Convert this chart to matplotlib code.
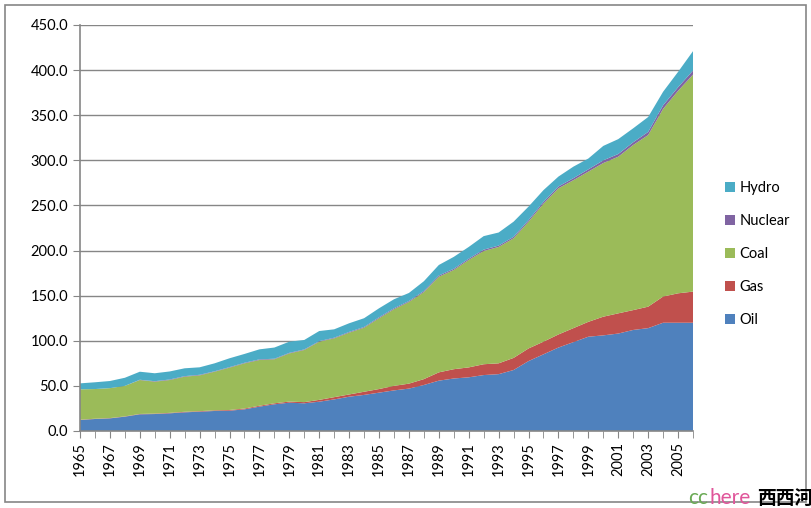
# Stacked area chart of primary energy consumption by fuel, 1965-2006

import numpy as np
import matplotlib.pyplot as plt
from matplotlib.ticker import FormatStrFormatter

years = list(range(1965, 2007))

oil = [12.2, 13.3, 14.0, 15.9, 18.5, 18.8, 19.6, 20.7, 21.4, 22.2,
       22.5, 24.0, 27.0, 29.6, 31.4, 30.7, 32.5, 35.0, 38.0, 40.0,
       42.5, 45.0, 47.0, 51.0, 55.8, 58.2, 59.5, 62.0, 63.0, 67.6,
       77.5, 85.0, 92.5, 98.5, 104.5, 106.0, 108.0, 112.0, 114.0, 120.0,
       120.0, 120.0]
gas = [0.3, 0.3, 0.3, 0.3, 0.4, 0.5, 0.5, 0.6, 0.6, 0.7,
       0.8, 0.9, 1.0, 1.1, 1.2, 1.3, 2.0, 2.5, 2.5, 3.5,
       4.0, 5.0, 5.5, 6.5, 9.2, 10.3, 11.0, 12.0, 12.0, 13.4,
       14.0, 14.0, 14.5, 15.5, 16.5, 20.7, 22.4, 22.0, 23.8, 29.0,
       32.6, 34.5]
coal = [33.7, 32.9, 33.2, 33.8, 37.6, 35.4, 36.4, 38.9, 39.7, 42.8,
        46.9, 50.1, 50.7, 48.8, 53.4, 57.8, 64.5, 65.2, 68.5, 71.0,
        78.5, 85.0, 90.5, 96.5, 106.0, 110.0, 119.1, 125.5, 129.0, 132.6,
        140.5, 153.0, 162.0, 164.0, 166.5, 170.3, 173.6, 183.0, 190.2, 208.0,
        224.4, 240.5]
nuclear = [0.0, 0.0, 0.0, 0.0, 0.3, 0.5, 0.6, 0.6, 0.6, 0.5,
           0.6, 0.6, 0.7, 0.6, 0.6, 0.6, 0.6, 0.7, 0.8, 0.8,
           1.0, 1.0, 1.0, 1.2, 1.3, 1.3, 1.4, 1.5, 1.5, 1.6,
           1.8, 2.0, 2.0, 2.2, 2.5, 3.0, 3.0, 3.0, 3.5, 4.0,
           4.0, 4.5]
hydro = [6.6, 7.5, 7.9, 9.0, 8.9, 8.8, 8.9, 8.7, 8.3, 8.8,
         9.8, 9.8, 11.1, 12.4, 12.4, 10.5, 11.2, 9.3, 9.6, 9.7,
         10.0, 10.0, 9.0, 10.8, 11.7, 13.2, 13.0, 15.0, 14.5, 16.8,
         14.9, 13.0, 11.0, 12.8, 12.0, 16.0, 16.5, 15.5, 16.5, 15.0,
         17.0, 21.5]

names = ["Oil", "Gas", "Coal", "Nuclear", "Hydro"]
colors = ["#4F81BD", "#C0504D", "#9BBB59", "#8064A2", "#4BACC6"]

plt.rcParams['font.family'] = ['Lato', 'DejaVu Sans']
grey = "#868686"

fig = plt.figure(figsize=(8.12, 5.08), dpi=100)
ax = fig.add_axes([80/812, 77/508, 613/812, 406/508])

ax.stackplot(years, oil, gas, coal, nuclear, hydro,
             colors=colors, labels=names, linewidth=0)

ax.set_xlim(1965, 2006)
ax.set_ylim(0, 450)
ax.set_yticks(np.arange(0, 451, 50))
ax.yaxis.set_major_formatter(FormatStrFormatter('%.1f'))
ax.set_xticks(years[::2])
ax.set_xticks(years, minor=True)
ax.set_xticklabels([str(y) for y in years[::2]], rotation=90)

ax.grid(axis='y', color=grey, linewidth=1)
ax.set_axisbelow(True)
for s in ['top', 'right']:
    ax.spines[s].set_visible(False)
for s in ['left', 'bottom']:
    ax.spines[s].set_color(grey)
    ax.spines[s].set_linewidth(1.2)
ax.tick_params(axis='both', which='both', color=grey, length=5,
               labelsize=10.5, labelcolor='black')
ax.tick_params(axis='x', which='both', pad=3)

handles, labels = ax.get_legend_handles_labels()
fig.legend(handles[::-1], labels[::-1], loc='center left',
           bbox_to_anchor=(712/812, 254/508), frameon=False,
           fontsize=10.5, handlelength=0.7, handleheight=0.7,
           handletextpad=0.3, labelspacing=1.3)

# outer border
fig.patches.append(plt.Rectangle((5/812, 6/508), 801/812, 497/508,
                                 transform=fig.transFigure, fill=False,
                                 edgecolor=grey, linewidth=1.2))

# watermark
fig.text(688/812, 4/508, "cc", color="#6AAA55", fontsize=15)
fig.text(710/812, 4/508, "here", color="#E0559A", fontsize=15)
fig.text(757/812, 4/508, "西西河", fontsize=13.5, fontweight='bold',
         family=['Noto Sans CJK SC', 'DejaVu Sans'])

fig.savefig("out.png", dpi=100)
